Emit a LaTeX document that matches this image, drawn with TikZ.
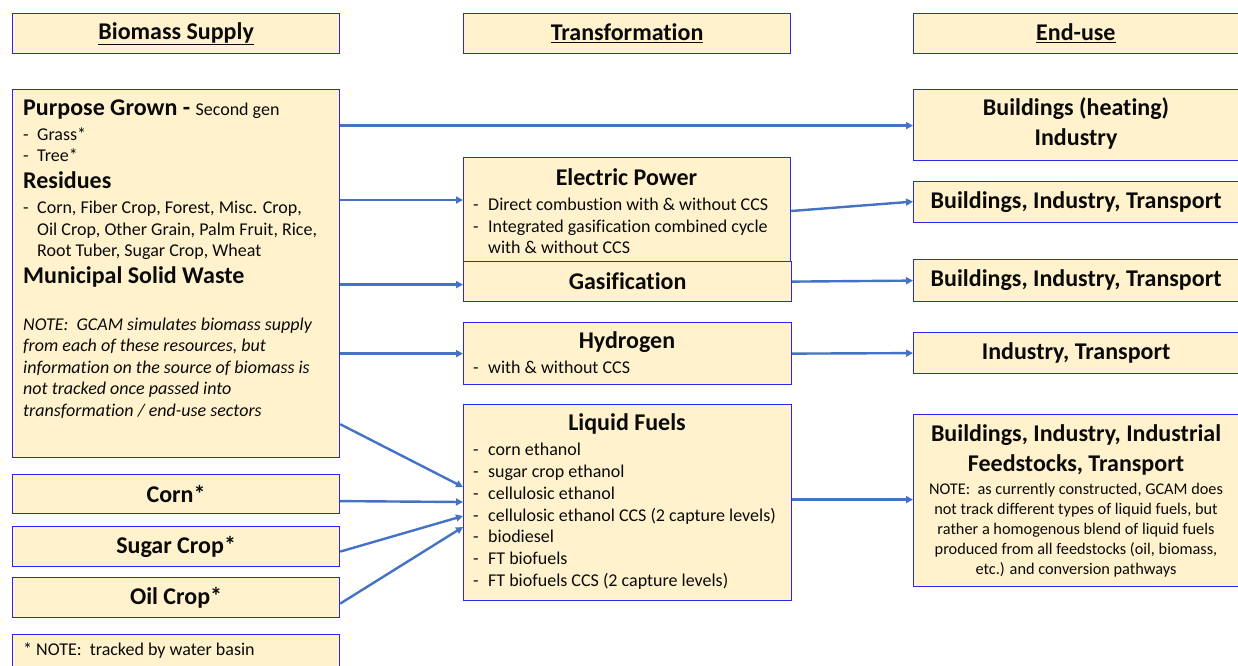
\documentclass[tikz,border=0pt]{standalone}
\usepackage{fontspec}
\setmainfont{Carlito}[Ligatures=NoCommon]
\usetikzlibrary{arrows.meta,calc}
\definecolor{boxfill}{HTML}{FFF2CC}
\definecolor{boxline}{RGB}{40,40,245}
\definecolor{arrowblue}{HTML}{4472C4}
\definecolor{txt}{HTML}{0A0A0A}
\begin{document}
\begin{tikzpicture}[x=1pt,y=-1pt,
 box/.style={draw=boxline, fill=boxfill, line width=1.2pt, inner sep=0pt, anchor=north west},
 hdr/.style={box, minimum width=327pt, minimum height=40pt, font=\fontsize{24}{28}\selectfont\bfseries, text=txt},
 sbox/.style={box, minimum width=327pt, minimum height=40pt, font=\fontsize{24}{28}\selectfont\bfseries, text=txt},
 ebox/.style={box, minimum width=325pt, minimum height=41pt, font=\fontsize{24}{28}\selectfont\bfseries, text=txt},
 ttl/.style={font=\fontsize{24}{28}\selectfont\bfseries, text=txt, inner sep=0pt, anchor=base},
 ttlw/.style={font=\fontsize{24}{28}\selectfont\bfseries, text=txt, inner sep=0pt, anchor=base west},
 body/.style={font=\fontsize{18}{21}\selectfont, text=txt, inner sep=0pt, anchor=base west},
 note/.style={font=\fontsize{18}{21}\selectfont\itshape, text=txt, inner sep=0pt, anchor=base west},
 small/.style={font=\fontsize{16.3}{19}\selectfont, text=txt, inner sep=0pt, anchor=base},
 arr/.style={draw=arrowblue, line width=2.4pt, -{Triangle[length=7pt,width=7pt]}},
]
\useasboundingbox (0,0) rectangle (1238,665);

% headers
\node[hdr] (hbio) at (12,13) {\underline{Biomass Supply}};
\node[hdr] (htr) at (463,13) {\underline{Transformation}};
\node[hdr, minimum width=324.5pt] (heu) at (913,13) {\underline{End-use}};

% biomass supply
\node[box, minimum width=327pt, minimum height=368pt] (bio) at (12,89) {};
\node[ttlw] (pg) at (23,115) {Purpose Grown - {\mdseries\fontsize{18}{21}\selectfont Second gen}};
\node[body] (pg1) at (23,140) {\makebox[14pt][l]{-}Grass*};
\node[body] (pg2) at (23,161) {\makebox[14pt][l]{-}Tree*};
\node[ttlw] (res) at (23,188) {Residues};
\node[body] (rs1) at (23,213) {\makebox[14pt][l]{-}Corn, Fiber Crop, Forest, Misc. Crop,};
\node[body] (rs2) at (37,235) {Oil Crop, Other Grain, Palm Fruit, Rice,};
\node[body] (rs3) at (37,256) {Root Tuber, Sugar Crop, Wheat};
\node[ttlw] (msw) at (23,283) {Municipal Solid Waste};
\node[note] (n1) at (23,330) {NOTE:\ \ GCAM simulates biomass supply};
\node[note] (n2) at (23,351.5) {from each of these resources, but};
\node[note] (n3) at (23,373) {information on the source of biomass is};
\node[note] (n4) at (23,394.5) {not tracked once passed into};
\node[note] (n5) at (23,416) {transformation / end-use sectors};

\node[sbox, minimum height=39pt] (corn) at (12,474) {Corn*};
\node[sbox] (sugar) at (12,526) {Sugar Crop*};
\node[sbox] (oil) at (12,577) {Oil Crop*};
\node[box, minimum width=327pt, minimum height=50pt] (wb) at (12,634) {};
\node[body] (wbt) at (23,655) {* NOTE:\ \ tracked by water basin};

% transformation
\node[box, minimum width=327pt, minimum height=104pt] (elec) at (463,157) {};
\node[ttl] (elect) at (626.5,185) {Electric Power};
\node[body] (el1) at (473,210) {\makebox[15pt][l]{-}Direct combustion with \& without CCS};
\node[body] (el2) at (473,232) {\makebox[15pt][l]{-}Integrated gasification combined cycle};
\node[body] (el3) at (488,253) {with \& without CCS};

\node[box, minimum width=328pt, minimum height=40pt, font=\fontsize{24}{28}\selectfont\bfseries, text=txt] (gas) at (463,261) {Gasification};

\node[box, minimum width=328pt, minimum height=62pt] (hyd) at (463,322) {};
\node[ttl] (hydt) at (627,348) {Hydrogen};
\node[body] (hy1) at (473,373) {\makebox[15pt][l]{-}with \& without CCS};

\node[box, minimum width=328pt, minimum height=196pt] (liq) at (463,404) {};
\node[ttl] (liqt) at (627,430) {Liquid Fuels};
\node[body] (lq1) at (473,455.7) {\makebox[15pt][l]{-}corn ethanol};
\node[body] (lq2) at (473,477.5) {\makebox[15pt][l]{-}sugar crop ethanol};
\node[body] (lq3) at (473,499.3) {\makebox[15pt][l]{-}cellulosic ethanol};
\node[body] (lq4) at (473,521) {\makebox[15pt][l]{-}cellulosic ethanol CCS (2 capture levels)};
\node[body] (lq5) at (473,542.8) {\makebox[15pt][l]{-}biodiesel};
\node[body] (lq6) at (473,564.7) {\makebox[15pt][l]{-}FT biofuels};
\node[body] (lq7) at (473,586.5) {\makebox[15pt][l]{-}FT biofuels CCS (2 capture levels)};

% end-use
\node[box, minimum width=324.5pt, minimum height=71pt] (eu1) at (913,89) {};
\node[ttl] (eu1a) at (1076,115) {Buildings (heating)};
\node[ttl] (eu1b) at (1076,145) {Industry};
\node[ebox] (eu2) at (913,181) {Buildings, Industry, Transport};
\node[ebox, minimum height=42pt] (eu3) at (913,259) {Buildings, Industry, Transport};
\node[ebox] (eu4) at (913,332) {Industry, Transport};
\node[box, minimum width=324.5pt, minimum height=172pt] (eu5) at (913,414) {};
\node[ttl] (eu5a) at (1076,441.7) {Buildings, Industry, Industrial};
\node[ttl] (eu5b) at (1076,471.7) {Feedstocks, Transport};
\node[small] (en1) at (1076,494.3) {NOTE:\ \ as currently constructed, GCAM does};
\node[small] (en2) at (1076,514.3) {not track different types of liquid fuels, but};
\node[small] (en3) at (1076,534.2) {rather a homogenous blend of liquid fuels};
\node[small] (en4) at (1076,554.1) {produced from all feedstocks (oil, biomass,};
\node[small] (en5) at (1076,574) {etc.) and conversion pathways};

% connectors
\coordinate (ie1) at ([yshift=-0.5pt]eu1.west);
\draw[arr] (bio.east |- ie1) -- (ie1);
\coordinate (iel) at ([yshift=-43pt]elec.north west);
\draw[arr] (bio.east |- iel) -- (iel);
\coordinate (igas) at ([yshift=-3pt]gas.west);
\draw[arr] (bio.east |- igas) -- (igas);
\draw[arr] (bio.east |- hyd.west) -- (hyd.west);
\coordinate (ol1) at ([yshift=34pt]bio.south east);
\coordinate (il1) at ([yshift=-83pt]liq.north west);
\draw[arr] (ol1) -- (il1);
\coordinate (ocorn) at ([yshift=-7pt]corn.east);
\coordinate (il2) at ([yshift=-98pt]liq.north west);
\draw[arr] (ocorn) -- (il2);
\coordinate (osug) at ([yshift=-5pt]sugar.east);
\coordinate (il3) at ([yshift=-112pt]liq.north west);
\draw[arr] (osug) -- (il3);
\coordinate (ooil) at ([yshift=-6pt]oil.east);
\coordinate (il4) at ([yshift=-123pt]liq.north west);
\draw[arr] (ooil) -- (il4);

\coordinate (oel) at ([yshift=-54pt]elec.north east);
\coordinate (ie2) at ([yshift=0.5pt]eu2.west);
\draw[arr] (oel) -- (ie2);
\draw[arr] (gas.east) -- (eu3.west);
\draw[arr] (hyd.east) -- (eu4.west);
\coordinate (oliq) at ([yshift=3pt]liq.east);
\draw[arr] (oliq) -- (eu5.west |- oliq);
\end{tikzpicture}
\end{document}
